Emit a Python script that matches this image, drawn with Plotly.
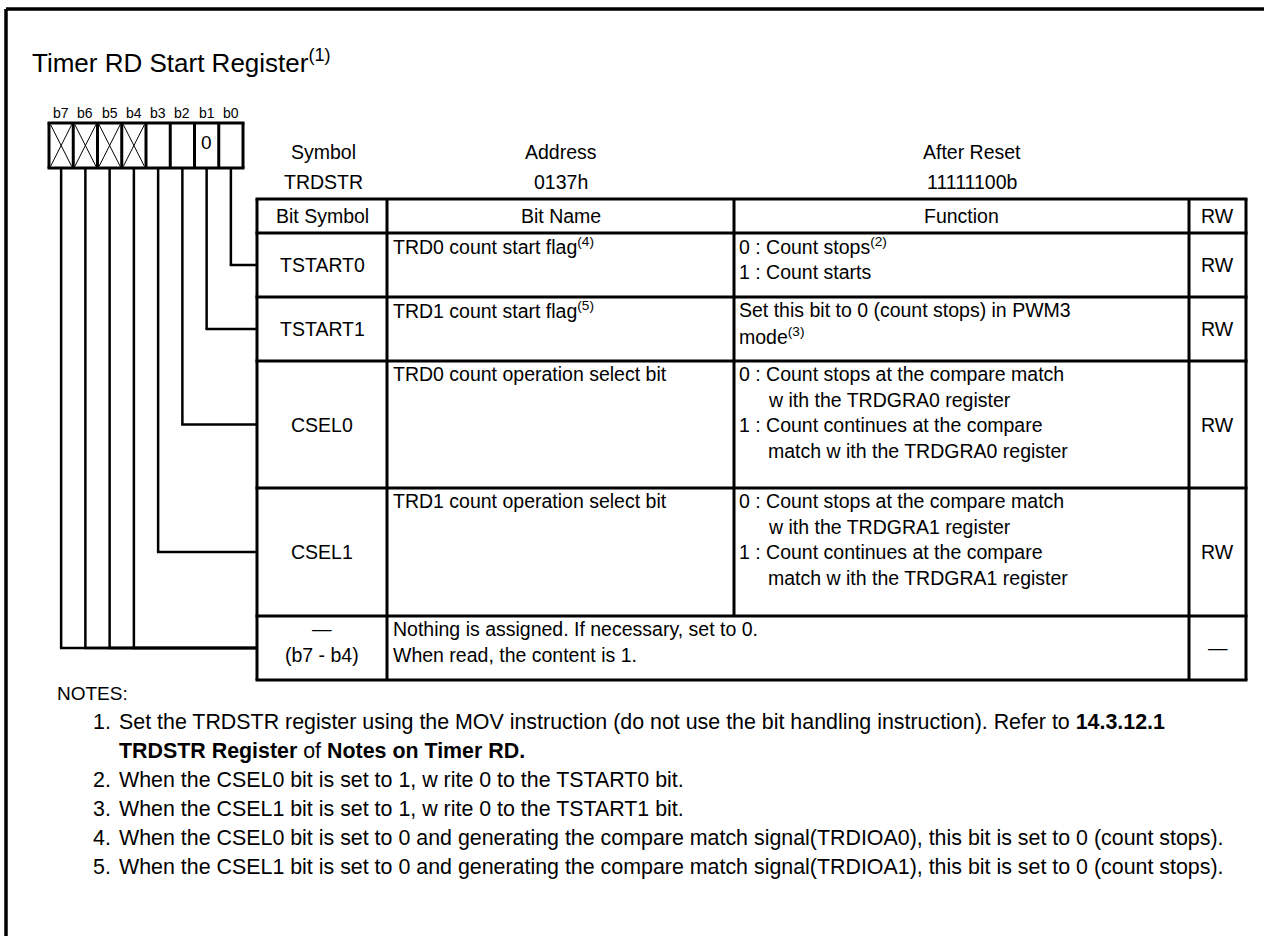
import plotly.graph_objects as go

# ---------------- content ----------------
title_text = "Timer RD Start Register<sup>(1)</sup>"

bit_labels = ["b7", "b6", "b5", "b4", "b3", "b2", "b1", "b0"]
bit_values = ["", "", "", "", "", "", "0", ""]
bit_reserved = [True, True, True, True, False, False, False, False]
bit_target_row = [4, 4, 4, 4, 3, 2, 1, 0]

header_labels = ["Symbol", "Address", "After Reset"]
header_values = ["TRDSTR", "0137h", "11111100b"]

col_titles = ["Bit Symbol", "Bit Name", "Function", "RW"]

bit_symbols = [["TSTART0"], ["TSTART1"], ["CSEL0"], ["CSEL1"], ["—", "(b7 - b4)"]]
bit_names = [
    ["TRD0 count start flag<sup>(4)</sup>"],
    ["TRD1 count start flag<sup>(5)</sup>"],
    ["TRD0 count operation select bit"],
    ["TRD1 count operation select bit"],
    ["Nothing is assigned. If necessary, set to 0.", "When read, the content is 1."],
]
functions = [
    ["0 : Count stops<sup>(2)</sup>", "1 : Count starts"],
    ["Set this bit to 0 (count stops) in PWM3", "mode<sup>(3)</sup>"],
    ["0 : Count stops at the compare match", "w ith the TRDGRA0 register",
     "1 : Count continues at the compare", "match w ith the TRDGRA0 register"],
    ["0 : Count stops at the compare match", "w ith the TRDGRA1 register",
     "1 : Count continues at the compare", "match w ith the TRDGRA1 register"],
    [],
]
function_indent = [
    [0, 0],
    [0, 0],
    [0, 1, 0, 1],
    [0, 1, 0, 1],
    [],
]
rw_values = ["RW", "RW", "RW", "RW", "—"]

notes_title = "NOTES:"
note_numbers = ["1.", "", "2.", "3.", "4.", "5."]
note_lines = [
    "Set the TRDSTR register using the MOV instruction (do not use the bit handling instruction). Refer to <b>14.3.12.1</b>",
    "<b>TRDSTR Register</b> of <b>Notes on Timer RD.</b>",
    "When the CSEL0 bit is set to 1, w rite 0 to the TSTART0 bit.",
    "When the CSEL1 bit is set to 1, w rite 0 to the TSTART1 bit.",
    "When the CSEL0 bit is set to 0 and generating the compare match signal(TRDIOA0), this bit is set to 0 (count stops).",
    "When the CSEL1 bit is set to 0 and generating the compare match signal(TRDIOA1), this bit is set to 0 (count stops).",
]

# ---------------- layout geometry ----------------
W, H = 1264, 936
FONT = "Arial, Liberation Sans, sans-serif"
FS = 19.5
FS_NOTE = 21.4

box_x0, box_w, box_y0, box_y1 = 49, 24.25, 123, 168
col_x = [257, 387, 734, 1189, 1246]
row_y = [199, 233, 297, 361, 488, 616, 680]
line_gap = 25.5
first_off = 13

shapes = []
annotations = []


def line(x0, y0, x1, y1, w=3):
    shapes.append(dict(type="line", xref="x", yref="y", x0=x0, y0=y0, x1=x1, y1=y1,
                       line=dict(color="black", width=w)))


def text(x, y, s, size=FS, anchor="center"):
    annotations.append(dict(x=x, y=y, xref="x", yref="y", text=s, showarrow=False,
                            xanchor=anchor, yanchor="middle", borderpad=0,
                            font=dict(family=FONT, size=size, color="black")))


# outer frame
line(6, 9, 6, H, 3.5)
line(6, 9, W, 9, 3.5)

# title
text(31, 61, title_text, 26, "left")

# bit boxes
n = len(bit_labels)
for i in range(n):
    cx0 = box_x0 + i * box_w
    cx1 = cx0 + box_w
    cxm = (cx0 + cx1) / 2
    text(cxm, 113, bit_labels[i], 14)
    if bit_reserved[i]:
        line(cx0 + 1.5, box_y0 + 1.5, cx1 - 1.5, box_y1 - 1.5, 1)
        line(cx0 + 1.5, box_y1 - 1.5, cx1 - 1.5, box_y0 + 1.5, 1)
    if bit_values[i]:
        text(cxm, 142, bit_values[i], 19)
    # leader line
    r = bit_target_row[i]
    ty = (row_y[r + 1] + row_y[r + 2]) / 2
    line(cxm, box_y1, cxm, ty, 2.5)
    line(cxm - 1.2, ty, col_x[0], ty, 2.5)
for i in range(n + 1):
    x = box_x0 + i * box_w
    line(x, box_y0, x, box_y1, 3)
line(box_x0 - 1.5, box_y0, box_x0 + n * box_w + 1.5, box_y0, 3)
line(box_x0 - 1.5, box_y1, box_x0 + n * box_w + 1.5, box_y1, 3)

# header labels above the table
head_x = [323, 561, 972]
for k in range(3):
    text(head_x[k], 152, header_labels[k])
    text(head_x[k], 182, header_values[k])

# table grid
for y in row_y:
    line(col_x[0] - 1.5, y, col_x[-1] + 1.5, y, 3)
for j, x in enumerate(col_x):
    y_end = row_y[-2] if j == 2 else row_y[-1]
    line(x, row_y[0], x, y_end, 3)

# column titles
for j in range(4):
    text((col_x[j] + col_x[j + 1]) / 2, (row_y[0] + row_y[1]) / 2, col_titles[j])

# rows
for r in range(len(bit_symbols)):
    top, bot = row_y[r + 1], row_y[r + 2]
    mid = (top + bot) / 2
    sym = bit_symbols[r]
    if len(sym) == 1:
        text((col_x[0] + col_x[1]) / 2, mid, sym[0])
    else:
        for k, s in enumerate(sym):
            text((col_x[0] + col_x[1]) / 2, top + first_off + k * line_gap, s)
    for k, s in enumerate(bit_names[r]):
        text(col_x[1] + 5, top + first_off + k * line_gap, s, anchor="left")
    for k, s in enumerate(functions[r]):
        ind = 29 if function_indent[r][k] else 0
        text(col_x[2] + 4 + ind, top + first_off + k * line_gap, s, anchor="left")
    text((col_x[3] + col_x[4]) / 2, mid, rw_values[r])

# notes
text(56, 693, notes_title, 19, anchor="left")
for k in range(len(note_lines)):
    y = 722 + k * 29
    if note_numbers[k]:
        text(92, y, note_numbers[k], FS_NOTE, anchor="left")
    text(118, y, note_lines[k], FS_NOTE, anchor="left")

fig = go.Figure()
fig.update_layout(
    width=W, height=H,
    margin=dict(l=0, r=0, t=0, b=0),
    paper_bgcolor="white", plot_bgcolor="white",
    xaxis=dict(range=[0, W], visible=False, fixedrange=True),
    yaxis=dict(range=[H, 0], visible=False, fixedrange=True),
    shapes=shapes, annotations=annotations, showlegend=False,
)
fig.write_html(
    "out.html",
    config={"displayModeBar": False},
    post_script="document.body.style.margin='0';document.body.style.overflow='hidden';",
)
